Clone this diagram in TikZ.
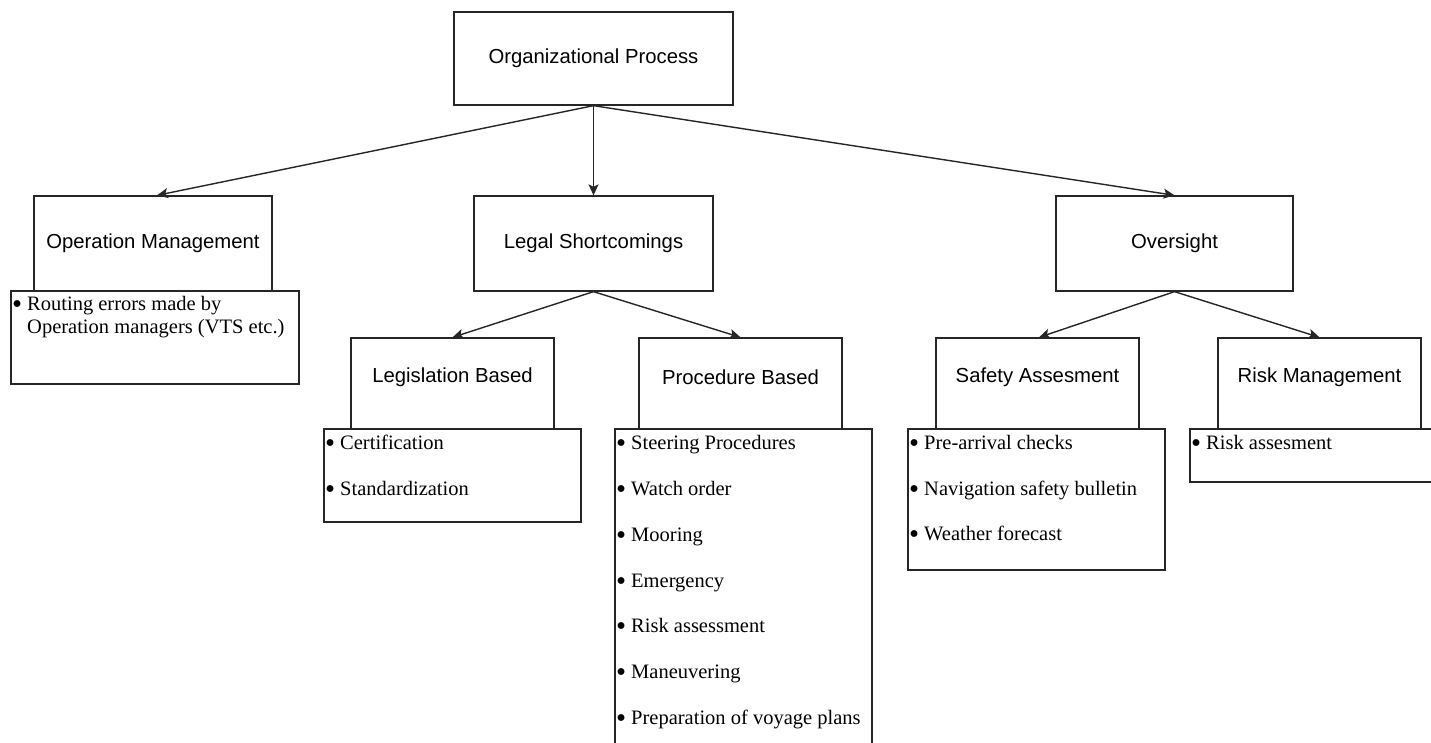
\documentclass[tikz,border=0pt]{standalone}
\usepackage{fontspec}
\setmainfont{Liberation Serif}
\newfontfamily\hdfont{Liberation Sans}
\usetikzlibrary{arrows.meta}
\tikzset{
  box/.style={draw=black!85, line width=1.3pt, fill=white, inner sep=0pt, font=\hdfont\fontsize{20.3}{24}\selectfont},
  lbox/.style={draw=black!85, line width=1.3pt, fill=white, inner sep=0pt},
  item/.style={anchor=base west, inner sep=0pt, font=\fontsize{20.5}{24}\selectfont},
  conn/.style={line width=1.4pt, draw=black!85, -{Stealth[length=11pt,width=10pt,inset=2.5pt]}}
}
\newcommand{\bul}{\llap{\raisebox{-3.6pt}{\scalebox{1.4}{\textbullet}}\hspace{5pt}}}
\newcommand{\up}[1]{\raisebox{6pt}[\height][\depth]{#1}}
\begin{document}
\begin{tikzpicture}[x=1pt,y=-1pt]
\clip (0,0) rectangle (1431,743);
\fill[white] (0,0) rectangle (1431,743);
% headers
\node[box, minimum width=279pt, minimum height=93pt] (org) at (593.5,58.5) {Organizational Process};
\node[box, minimum width=238pt, minimum height=95pt] (om) at (153,243.5) {Operation Management};
\node[box, minimum width=239pt, minimum height=95pt] (ls) at (593.5,243.5) {Legal Shortcomings};
\node[box, minimum width=237pt, minimum height=95pt] (ov) at (1174.5,243.5) {Oversight};
\node[box, minimum width=203pt, minimum height=91pt] (lb) at (452.5,383.5) {\up{Legislation Based}};
\node[box, minimum width=203pt, minimum height=91pt] (pb) at (740.5,383.5) {\up{Procedure Based}};
\node[box, minimum width=203pt, minimum height=91pt] (sa) at (1037.5,383.5) {\up{Safety Assesment}};
\node[box, minimum width=203pt, minimum height=91pt] (rm) at (1319.5,383.5) {\up{Risk Management}};
% list boxes
\node[lbox, minimum width=288pt, minimum height=93pt] (oml) at (155,337.5) {};
\node[lbox, minimum width=257pt, minimum height=93pt] (lbl) at (452.5,475.5) {};
\node[lbox, minimum width=257pt, minimum height=330pt] (pbl) at (743.5,594) {};
\node[lbox, minimum width=257pt, minimum height=141pt] (sal) at (1036.5,499.5) {};
\node[lbox, minimum width=260pt, minimum height=53pt] (rml) at (1320,455.5) {};
% items
\node[item] (om1) at (27,310) {\bul Routing errors made by};
\node[item] (om2) at (27,333) {Operation managers (VTS etc.)};
\node[item] (lb1) at (340,449) {\bul Certification};
\node[item] (lb2) at (340,495) {\bul Standardization};
\node[item] (pb1) at (631,449) {\bul Steering Procedures};
\node[item] (pb2) at (631,495) {\bul Watch order};
\node[item] (pb3) at (631,541) {\bul Mooring};
\node[item] (pb4) at (631,587) {\bul Emergency};
\node[item] (pb5) at (631,632) {\bul Risk assessment};
\node[item] (pb6) at (631,678) {\bul Maneuvering};
\node[item] (pb7) at (631,724) {\bul Preparation of voyage plans};
\node[item] (sa1) at (924,449) {\bul Pre-arrival checks};
\node[item] (sa2) at (924,495) {\bul Navigation safety bulletin};
\node[item] (sa3) at (924,540) {\bul Weather forecast};
\node[item] (rm1) at (1206,449) {\bul Risk assesment};
% connectors
\draw[conn] (org.south) -- ([xshift=4pt]om.north);
\draw[conn] (org.south) -- (ls.north);
\draw[conn] (org.south) -- (ov.north);
\draw[conn] (ls.south) -- (lb.north);
\draw[conn] (ls.south) -- (pb.north);
\draw[conn] (ov.south) -- ([xshift=1.5pt]sa.north);
\draw[conn] (ov.south) -- (rm.north);
\end{tikzpicture}
\end{document}
